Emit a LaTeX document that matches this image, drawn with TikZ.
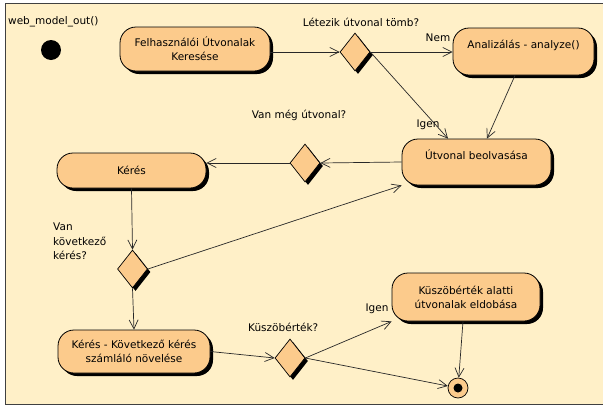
\documentclass[tikz,border=0pt]{standalone}
\usepackage{fontspec}
\setmainfont{DejaVu Sans}
\usetikzlibrary{shapes.geometric,shadows,arrows.meta}
\definecolor{paper}{HTML}{FFF0C8}
\definecolor{actfill}{HTML}{FCCB8C}
\definecolor{wire}{HTML}{282828}

\begin{document}
\begin{tikzpicture}[x=1pt,y=-1pt,
  font=\fontsize{10.5}{14}\selectfont,
  hardshadow/.style={drop shadow={shadow xshift=3pt,shadow yshift=-3pt,fill=black,opacity=1}},
  act/.style={draw=black,line width=0.8pt,fill=actfill,rounded corners=16pt,
    align=center,inner sep=0pt,hardshadow},
  choice/.style={diamond,draw=black,line width=0.7pt,fill=actfill,inner sep=0pt,
    minimum width=30pt,minimum height=38pt,hardshadow},
  flow/.style={draw=wire,line width=0.7pt,-{Straight Barb[length=9pt,width=9pt]}},
  lbl/.style={inner sep=0pt}]

% canvas and frame
\useasboundingbox (0,0) rectangle (603,408);
\fill[white] (0,0) rectangle (603,408);
\fill[paper] (5,3) rectangle (603,405);
\draw[black!75,line width=1pt] (603,3.5) -- (5.5,3.5) -- (5.5,404.5) -- (603,404.5);

\node[lbl,anchor=west] (title) at (8,22) {web\_model\_out()};

% start and end points
\node[circle,fill=black,minimum size=20pt,inner sep=0pt] (init) at (51,50) {};
\node[circle,draw=black,line width=0.7pt,fill=actfill,minimum size=20pt,inner sep=0pt] (fin) at (458,388) {};
\fill[black] (fin.center) circle (4.5pt);

% activities
\node[act,minimum width=150pt,minimum height=44pt] (n1) at (195,49)
  {Felhasználói Útvonalak\\Keresése};
\node[act,minimum width=141pt,minimum height=47pt] (n2) at (523.5,51.5)
  {Analizálás - analyze()\\\phantom{X}};
\node[act,minimum width=149pt,minimum height=46pt] (n3) at (476.5,162)
  {Útvonal beolvasása\\\phantom{X}};
\node[act,minimum width=149pt,minimum height=35pt] (n4) at (131.5,170.5)
  {Kérés};
\node[act,minimum width=152pt,minimum height=43pt] (n5) at (134,351.5)
  {Kérés - Következő kérés\\számláló növelése};
\node[act,minimum width=148pt,minimum height=48pt] (n6) at (466,297)
  {Küszöbérték alatti\\útvonalak eldobása};

% decisions
\node[choice] (d1) at (355,52) {};
\node[choice] (d2) at (305,163) {};
\node[choice] (d3) at (132.5,269) {};
\node[choice] (d4) at (290,358) {};

% decision captions
\node[lbl] (q1) at (361,22) {Létezik útvonal tömb?};
\node[lbl] (q2) at (299,115) {Van még útvonal?};
\node[lbl,anchor=north west,align=left,font=\fontsize{10.5}{14.2}\selectfont] (q3) at (53,223) {Van\\következő\\kérés?};
\node[lbl,anchor=west] (q4) at (248,327) {Küszöbérték?};

% guards
\node[lbl] (g1) at (438,38) {Nem};
\node[lbl] (g2) at (428,125) {Igen};
\node[lbl] (g3) at (377,309) {Igen};

% transitions
\draw[flow] (d1.west -| n1.east) -- (d1.west);
\draw[flow] (d1.east) -- (d1.east -| n2.west);
\draw[flow] (d1.east) -- ([xshift=-28.5pt]n3.north);
\draw[flow] ([xshift=-8.5pt]n2.south) -- ([xshift=10.5pt]n3.north);
\draw[flow] (n3.west) -- (d2.east);
\draw[flow] (d2.west) -- (d2.west -| n4.east);
\draw[flow] (n4.south) -- (d3.north);
\draw[flow] (d3.east) -- (n3.south west);
\draw[flow] (d3.south) -- (n5.north);
\draw[flow] (n5.east) -- (d4.west);
\draw[flow] (d4.east) -- (n6.south west);
\draw[flow] (d4.east) -- (fin);
\draw[flow] ([xshift=-3pt]n6.south) -- (fin);
\end{tikzpicture}
\end{document}
